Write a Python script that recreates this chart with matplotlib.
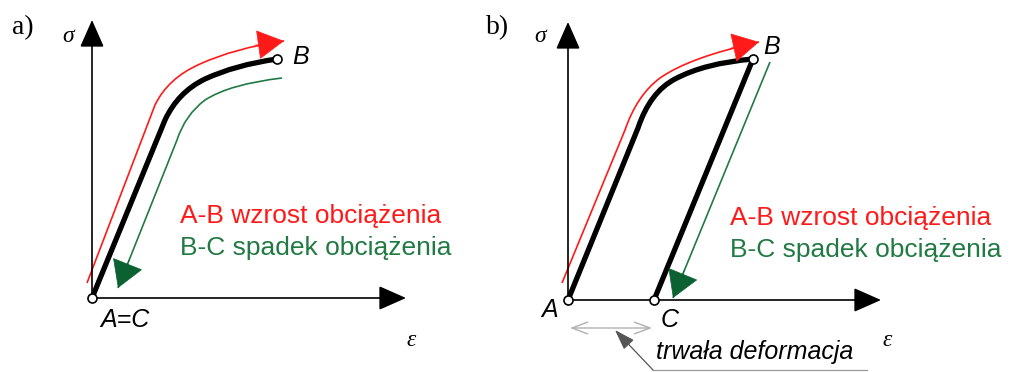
import numpy as np
import matplotlib.pyplot as plt
from matplotlib.path import Path
from matplotlib.patches import PathPatch

# diagram coordinates (pixels, y grows downward)
# each curve: straight rise, then two quadratic bends (control, end)
# panel a)
a_origin = (92, 298)
a_ytip = (92, 20)
a_xtip = (406, 298)
a_load = [(92, 298), (165, 120), (178, 92), (205, 79), (235, 65), (277, 59)]
a_red = [(87, 283), (155, 105), (168, 78), (200, 64), (235, 48), (284, 41)]
a_green = [(282, 78), (230, 84), (205, 100), (185, 115), (177, 140), (118, 288)]

# panel b)
b_origin = (568, 300)
b_ytip = (568, 22)
b_xtip = (881, 300)
b_load = [(568, 300), (638, 128), (650, 92), (675, 79), (705, 63), (753, 59)]
b_unload = [(753, 59), (654, 300)]
b_red = [(562, 283), (625, 130), (637, 95), (660, 78), (690, 57), (759, 42)]
b_green = [(770, 62), (673, 298)]

RED = '#ff1a1a'
GREEN = '#217a43'
DKGREEN = '#0b6132'
GRAY = '#9a9a9a'

LOAD_CODES = [Path.MOVETO, Path.LINETO, Path.CURVE3, Path.CURVE3,
              Path.CURVE3, Path.CURVE3]
GREEN_CODES = [Path.MOVETO, Path.CURVE3, Path.CURVE3, Path.CURVE3,
               Path.CURVE3, Path.LINETO]
LINE_CODES = [Path.MOVETO, Path.LINETO]

fig = plt.figure(figsize=(10.11, 3.72), dpi=100)
ax = fig.add_axes([0, 0, 1, 1])
ax.set_xlim(0, 1011)
ax.set_ylim(372, 0)
ax.axis('off')


def axis_arrow(start, tip):
    ax.annotate('', xy=tip, xytext=start,
                arrowprops=dict(arrowstyle='-|>,head_length=0.95,head_width=0.42',
                                color='black', lw=1.2, mutation_scale=18,
                                shrinkA=0, shrinkB=0))


def curve_arrow(pts, codes, color, head_color, head_width=0.55):
    # path drawn as a thin line, arrowhead placed along its last segment
    ax.add_patch(PathPatch(Path(pts, codes), fc='none', ec=color, lw=1.2))
    p0, p1 = np.array(pts[-2], float), np.array(pts[-1], float)
    d = (p0 - p1) / np.hypot(*(p0 - p1))
    ax.annotate('', xy=tuple(p1), xytext=tuple(p1 + 30 * d),
                arrowprops=dict(arrowstyle=f'-|>,head_length=1.0,head_width={head_width}',
                                color=head_color, lw=0.5, mutation_scale=18,
                                shrinkA=0, shrinkB=0))


def thick_curve(pts, codes):
    ax.add_patch(PathPatch(Path(pts, codes), fc='none', ec='black', lw=3.8,
                           capstyle='round', joinstyle='round'))


sans_it = dict(family='Liberation Sans', style='italic', fontsize=18)
sans = dict(family='Liberation Sans', fontsize=19, va='baseline')
serif = dict(family='Liberation Serif')
circle = dict(ms=6.5, mfc='white', mec='black', mew=1.2, ls='none',
              marker='o', zorder=5)

for (origin, ytip, xtip) in [(a_origin, a_ytip, a_xtip), (b_origin, b_ytip, b_xtip)]:
    axis_arrow(origin, ytip)
    axis_arrow(origin, xtip)

# panel a)
curve_arrow(a_red, LOAD_CODES, RED, RED)
curve_arrow(a_green, GREEN_CODES, GREEN, DKGREEN, head_width=0.6)
thick_curve(a_load, LOAD_CODES)
ax.plot([a_load[0][0], a_load[-1][0]], [a_load[0][1], a_load[-1][1]], **circle)
ax.text(12, 28, 'a)', fontsize=20, va='center', **serif)
ax.text(62, 36, 'σ', fontsize=17, style='italic', va='center', **serif)
ax.text(406, 340, 'ε', fontsize=17, style='italic', va='center', **serif)
ax.text(292, 57, 'B', va='center', **sans_it)
ax.text(100, 320, 'A=C', va='center', **sans_it)
ax.text(180, 223, 'A-B wzrost obciążenia', color=RED, **sans)
ax.text(180, 255, 'B-C spadek obciążenia', color=GREEN, **sans)

# panel b)
curve_arrow(b_red, LOAD_CODES, RED, RED)
curve_arrow(b_green, LINE_CODES, GREEN, DKGREEN, head_width=0.6)
thick_curve(b_load, LOAD_CODES)
thick_curve(b_unload, LINE_CODES)
ax.plot([b_load[0][0], b_load[-1][0], b_unload[-1][0]],
        [b_load[0][1], b_load[-1][1], b_unload[-1][1]], **circle)
ax.text(486, 28, 'b)', fontsize=20, va='center', **serif)
ax.text(534, 36, 'σ', fontsize=17, style='italic', va='center', **serif)
ax.text(882, 340, 'ε', fontsize=17, style='italic', va='center', **serif)
ax.text(763, 47, 'B', va='center', **sans_it)
ax.text(541, 310, 'A', va='center', **sans_it)
ax.text(661, 320, 'C', va='center', **sans_it)
ax.text(730, 225, 'A-B wzrost obciążenia', color=RED, **sans)
ax.text(730, 257, 'B-C spadek obciążenia', color=GREEN, **sans)

# permanent deformation marker
ax.annotate('', xy=(570, 328), xytext=(652, 328),
            arrowprops=dict(arrowstyle='<->,head_length=0.8,head_width=0.3',
                            color='#b0b0b0', lw=1.0, mutation_scale=14,
                            shrinkA=0, shrinkB=0))
ax.plot([867, 653], [370, 370], color=GRAY, lw=0.9)
ax.annotate('', xy=(615, 330), xytext=(653, 370),
            arrowprops=dict(arrowstyle='-|>,head_length=0.9,head_width=0.3',
                            color='#555555', lw=0.9, mutation_scale=14,
                            shrinkA=0, shrinkB=0))
ax.text(656, 352, 'trwała deformacja', va='center', **sans_it)

fig.savefig('out.png', dpi=100)
